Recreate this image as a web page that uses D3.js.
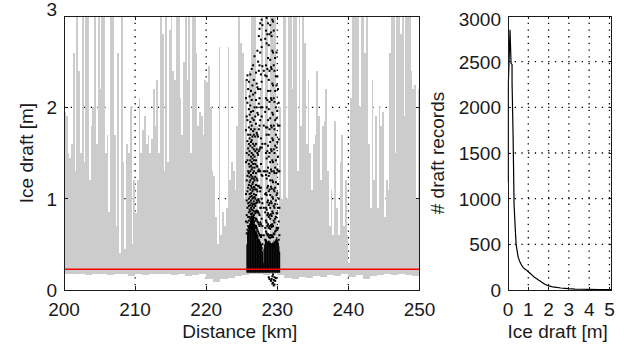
<!DOCTYPE html>
<html>
<head>
<meta charset="utf-8">
<script src="https://cdn.jsdelivr.net/npm/d3@7"></script>
<style>
body{margin:0;background:#fff;}
svg{display:block;}
text{font-family:"Liberation Sans",Arial,sans-serif;font-size:19px;fill:#1a1a1a;}
</style>
</head>
<body>
<div id="chart"></div>
<script>
// ice draft trace, upper value per 0.25 km bin from 200 km
var draftMax = [
 1.95,1.9,1.5,1.45,1.6,2.6,1.3,3.5,2.4,1.5, 3.5,1.4,3.5,3.5,1.2,1.8,2.0,3.5,1.6,3.5,
 2.2,3.5,3.5,1.5,1.7,0.85,3.5,3.2,1.7,0.7, 2.6,0.4,3.5,1.4,0.45,1.6,1.5,2.0,0.5,1.2,
 0.84,1.2,2.1,1.5,1.75,1.9,1.6,1.7,1.5,1.65, 2.2,1.8,2.3,1.5,3.5,2.8,1.3,3.5,1.4,2.85,
 3.5,2.4,2.3,3.5,3.5,2.1,1.7,2.5,3.5,2.3, 3.5,1.5,3.5,3.5,2.6,1.8,1.95,1.9,1.7,2.3,
 2.28,2.45,2.0,1.3,1.25,0.8,0.5,2.66,0.6,0.85, 0.7,0.9,2.66,1.2,1.4,1.3,1.1,1.8,3.5,2.7,
 2.6,1.0,2.3,1.6,2.4,3.5,3.5,3.5,1.8,0.6, 2.2,3.5,0.6,3.5,3.5,0.6,3.5,3.5,3.5,1.5,
 0.7,2.0,1.0,3.5,3.5,1.0,3.3,3.5,2.2,3.5, 3.5,1.3,3.5,1.8,3.5,2.7,1.6,2.3,1.5,1.1,
 1.6,1.7,2.4,1.9,1.2,1.8,1.85,2.2,1.3,0.7, 1.1,0.6,1.85,0.9,0.6,1.4,1.7,0.7,1.2,0.6,
 0.3,2.1,3.5,3.5,3.2,3.5,2.0,3.5,3.5,2.6, 3.5,1.6,0.9,2.3,1.2,1.9,0.9,2.0,1.8,1.95,
 0.8,1.2,1.1,2.6,3.5,3.5,1.5,3.5,3.5,2.8, 3.5,1.9,3.5,3.5,3.5,2.4,2.2,2.25,1.0,2.2
];
// lower edge of the trace, per 1 km
var draftMin = [
 0.18,0.17,0.18,0.16,0.17,0.17,0.16,0.18,0.17,0.15,
 0.17,0.16,0.17,0.18,0.17,0.16,0.17,0.15,0.16,0.17,
 0.12,0.09,0.12,0.13,0.15,0.16,0.18,0.18,0.16,0.17,
 0.16,0.13,0.12,0.14,0.13,0.15,0.14,0.16,0.15,0.17,
 0.14,0.16,0.12,0.15,0.16,0.17,0.16,0.17,0.16,0.15
];
// selected records: dense part, per 0.1 km from 225.7 km
var denseTop = [
 0.5,0.62,0.66,0.7,0.72,0.76,0.8,0.84,0.8,0.82,
 0.76,0.7,0.64,0.66,0.62,0.6,0.56,0.56,0.54,0.52,
 0.5,0.46,0.42,0.3,0.45,0.5,0.54,0.55,0.5,0.52,
 0.54,0.5,0.54,0.52,0.5,0.5,0.52,0.5,0.54,0.5,
 0.54,0.56,0.58,0.54,0.52,0.48,0.42
];
// selected records: scattered points, by 0.1 km column
var dotKm = [225.6,225.7,225.8,225.9,226.0,226.1,226.2,226.3,226.4,226.5,226.6,226.7,226.8,226.9,
             227.0,227.1,227.2,227.3,227.4,227.5,227.6,227.7,227.8,227.9,228.1,
             228.3,228.4,228.5,228.6,228.7,228.8,228.9,229.0,229.1,229.2,229.3,229.4,229.5,
             229.6,229.7,229.8,229.9,230.0,230.1,230.2,230.3];
var dotDraft = [
 [0.75,1.05,1.4,1.75,2.1],
 [0.62,0.82,0.98,1.2,1.5,1.9,2.3],
 [0.66,0.74,0.9,1.08,1.25,1.42,1.63,1.86,2.05,2.35],
 [0.63,0.7,0.8,0.95,1.12,1.3,1.55,1.7,2.2],
 [0.68,0.76,0.85,0.92,1.0,1.15,1.28,1.38,1.48,1.6,1.78,1.98,2.28],
 [0.7,0.8,0.88,0.96,1.05,1.18,1.24,1.35,1.52,1.66,1.92,2.12],
 [0.72,0.78,0.86,0.93,1.02,1.1,1.2,1.3,1.42,1.58,1.7,1.84,2.02,2.36],
 [0.68,0.75,0.83,0.9,0.98,1.06,1.14,1.26,1.36,1.46,1.62,1.76,1.95,2.18],
 [0.74,0.8,0.88,0.95,1.03,1.12,1.22,1.32,1.4,1.5,1.64,1.8,2.08,2.42],
 [0.7,0.77,0.84,0.92,1.0,1.08,1.16,1.24,1.34,1.44,1.56,1.68,1.88,2.24],
 [0.72,0.8,0.87,0.94,1.01,1.1,1.18,1.28,1.38,1.48,1.6,1.74,1.96,2.14,2.46],
 [0.67,0.74,0.82,0.9,0.97,1.05,1.13,1.22,1.3,1.42,1.54,1.7,1.86,2.3],
 [0.64,0.71,0.79,0.86,0.94,1.02,1.12,1.2,1.34,1.46,1.58,1.76,2.0,2.56],
 [0.6,0.68,0.76,0.84,0.92,1.0,1.1,1.24,1.38,1.52,1.68,1.9,2.16],
 [0.62,0.7,0.78,0.86,0.95,1.04,1.15,1.28,1.42,1.6,1.82,2.08,2.38],
 [0.6,0.68,0.77,0.87,0.98,1.1,1.22,1.36,1.54,1.72,2.0,2.26],
 [0.58,0.66,0.75,0.85,0.96,1.08,1.2,1.35,1.5,1.7,1.94,2.22,2.62],
 [0.55,0.64,0.74,0.86,0.99,1.14,1.3,1.48,1.68,1.92,2.2,2.5],
 [0.54,0.62,0.72,0.84,0.98,1.14,1.32,1.52,1.76,2.04,2.4,2.78],
 [0.52,0.6,0.7,0.82,0.96,1.12,1.3,1.54,1.8,2.1,2.46,2.86],
 [0.5,0.6,0.74,0.9,1.08,1.3,1.56,1.86,2.2,2.6,2.92],
 [0.48,0.58,0.72,0.9,1.12,1.38,1.66,2.0,2.36,2.74],
 [0.46,0.6,0.78,1.0,1.26,1.56,1.9,2.28,2.66,2.96],
 [0.5,0.7,0.95,1.25,1.6,2.0,2.45,2.9],
 [0.6,0.9,1.3,1.8,2.4],
 [0.55,0.68,0.85,1.05,1.3,1.6,1.95,2.35,2.75],
 [0.54,0.64,0.76,0.9,1.06,1.26,1.5,1.78,2.1,2.46,2.84],
 [0.52,0.62,0.74,0.88,1.04,1.22,1.44,1.7,2.0,2.34,2.7,2.98],
 [0.5,0.6,0.7,0.82,0.96,1.12,1.3,1.52,1.78,2.08,2.42,2.8],
 [0.52,0.61,0.72,0.84,0.98,1.14,1.34,1.58,1.86,2.18,2.54,2.92],
 [0.14,0.5,0.58,0.68,0.8,0.93,1.08,1.25,1.46,1.7,1.98,2.3,2.68],
 [0.12,0.5,0.6,0.7,0.82,0.95,1.1,1.28,1.5,1.76,2.06,2.4,2.8],
 [0.48,0.57,0.67,0.78,0.9,1.04,1.2,1.4,1.62,1.88,2.18,2.52,2.9],
 [0.1,0.5,0.6,0.71,0.83,0.97,1.13,1.32,1.54,1.8,2.1,2.44,2.82],
 [0.12,0.48,0.58,0.69,0.81,0.95,1.11,1.3,1.52,1.78,2.08,2.42,2.78,3.0],
 [0.07,0.15,0.5,0.6,0.72,0.86,1.02,1.2,1.42,1.66,1.94,2.26,2.62,2.96],
 [0.08,0.17,0.48,0.58,0.7,0.84,1.0,1.18,1.4,1.64,1.92,2.24,2.6,2.94],
 [0.05,0.11,0.5,0.62,0.76,0.92,1.1,1.3,1.54,1.8,2.1,2.46,2.84],
 [0.06,0.14,0.5,0.61,0.74,0.9,1.08,1.28,1.5,1.76,2.06,2.4],
 [0.1,0.52,0.64,0.78,0.94,1.12,1.34,1.58,1.86,2.18,2.54],
 [0.13,0.52,0.65,0.8,0.98,1.18,1.42,1.7,2.0,2.34],
 [0.54,0.68,0.84,1.04,1.28,1.56,1.88,2.24,2.6],
 [0.52,0.66,0.84,1.06,1.32,1.62,1.96,2.34],
 [0.5,0.68,0.9,1.16,1.46,1.8,2.2],
 [0.55,0.75,1.0,1.3,1.65,2.05],
 [0.6,0.9,1.3,1.8]
];
var levelLine = [0.227];

// draft distribution
var histDraft = [0,0.02,0.02,0.1,0.15,0.2,0.2,0.25,0.3,0.35,0.4,0.5,0.6,0.7,0.8,0.9,1.0,1.1,1.2,1.3,1.4,1.5,1.6,1.7,1.8,1.9,2.0,2.2,2.4,2.6,2.8,3.0,3.3,3.6,4.0,4.5,5.0,5.1];
var histCount = [1180,1180,2280,2850,2480,2470,2270,1700,930,700,500,360,300,260,235,220,200,180,160,140,125,110,95,80,65,55,45,35,28,22,18,14,10,8,6,5,4,4];

var distTicks = [200,210,220,230,240,250];
var draftTicks = [0,1,2,3];
var histXTicks = [0,1,2,3,4,5];
var histYTicks = [0,500,1000,1500,2000,2500,3000];

var svg = d3.select("#chart").append("svg")
    .attr("width", 624).attr("height", 348);
svg.append("rect").attr("width", 624).attr("height", 348).attr("fill", "#fff");

function drawGrid(g, x, y, xt, yt, w, h) {
    g.selectAll(".gx").data(xt.slice(1, -1)).enter().append("line")
        .attr("x1", d => x(d)).attr("x2", d => x(d)).attr("y1", 0).attr("y2", h)
        .attr("stroke", "#000").attr("stroke-width", 1.3).attr("stroke-dasharray", "1.3,5.4");
    g.selectAll(".gy").data(yt.slice(1, -1)).enter().append("line")
        .attr("y1", d => y(d)).attr("y2", d => y(d)).attr("x1", 0).attr("x2", w)
        .attr("stroke", "#000").attr("stroke-width", 1.3).attr("stroke-dasharray", "1.3,5.4");
}

function drawFrame(g, x, y, xt, yt, w, h, tl, topShift) {
    var frame = g.append("g").attr("stroke", "#1a1a1a").attr("stroke-width", 1).attr("shape-rendering", "crispEdges");
    frame.append("rect").attr("x", 0).attr("y", 0).attr("width", w).attr("height", h).attr("fill", "none");
    xt.forEach(function (d) {
        frame.append("line").attr("x1", x(d)).attr("x2", x(d)).attr("y1", h).attr("y2", h - tl);
        frame.append("line").attr("x1", x(d)).attr("x2", x(d)).attr("y1", 0).attr("y2", tl);
    });
    yt.forEach(function (d) {
        frame.append("line").attr("y1", y(d)).attr("y2", y(d)).attr("x1", 0).attr("x2", tl);
        frame.append("line").attr("y1", y(d)).attr("y2", y(d)).attr("x1", w).attr("x2", w - tl);
    });
    g.selectAll(".xl").data(xt).enter().append("text")
        .attr("x", d => x(d)).attr("y", h + 26)
        .attr("text-anchor", "middle").text(d => d);
    g.selectAll(".yl").data(yt).enter().append("text")
        .attr("x", -7).attr("y", (d, i) => y(d) + 7 + (i === yt.length - 1 ? topShift : 0))
        .attr("text-anchor", "end").text(d => d);
}

// left panel
var left = {x: 64, y: 16, w: 355.5, h: 274};
var gL = svg.append("g").attr("transform", "translate(" + left.x + "," + left.y + ")");
var xL = d3.scaleLinear().domain([200, 250]).range([0, left.w]);
var yL = d3.scaleLinear().domain([0, 3]).range([left.h, 0]);

svg.append("clipPath").attr("id", "clipL").append("rect")
    .attr("x", 0).attr("y", 0).attr("width", left.w).attr("height", left.h);

drawGrid(gL, xL, yL, distTicks, draftTicks, left.w, left.h);

var plotL = gL.append("g").attr("clip-path", "url(#clipL)");

plotL.append("g").attr("shape-rendering", "crispEdges")
    .selectAll("rect").data(draftMax).enter().append("rect")
    .attr("x", (d, i) => xL(200 + i * 0.25))
    .attr("width", (d, i) => xL(200 + (i + 1) * 0.25) - xL(200 + i * 0.25))
    .attr("y", d => yL(d))
    .attr("height", (d, i) => yL(draftMin[Math.floor(i / 4)]) - yL(d))
    .attr("fill", "#cccccc");

plotL.append("g")
    .selectAll("rect").data(denseTop).enter().append("rect")
    .attr("x", (d, i) => xL(225.65 + i * 0.1))
    .attr("width", xL(200.1) - xL(200) + 0.4)
    .attr("y", d => yL(d))
    .attr("height", d => yL(0.19) - yL(d))
    .attr("fill", "#000");

var dots = [];
dotKm.forEach(function (k, i) {
    dotDraft[i].forEach(function (v) { dots.push({km: k, v: v}); });
});
plotL.append("g")
    .selectAll("rect").data(dots).enter().append("rect")
    .attr("x", d => xL(d.km) - 1).attr("y", d => yL(d.v) - 1)
    .attr("width", 2).attr("height", 2)
    .attr("fill", "#000");

plotL.selectAll(".lvl").data(levelLine).enter().append("line")
    .attr("x1", xL(200)).attr("x2", xL(250))
    .attr("y1", d => yL(d)).attr("y2", d => yL(d))
    .attr("stroke", "#ff0000").attr("stroke-width", 1.6);

drawFrame(gL, xL, yL, distTicks, draftTicks, left.w, left.h, 4, -7.5);

gL.append("text").attr("x", left.w / 2 - 2).attr("y", left.h + 48)
    .attr("text-anchor", "middle").text("Distance [km]");
gL.append("text").attr("transform", "translate(-31," + (left.h / 2) + ") rotate(-90)")
    .attr("text-anchor", "middle").text("Ice draft [m]");

// right panel
var right = {x: 508, y: 16, w: 103.5, h: 274};
var gR = svg.append("g").attr("transform", "translate(" + right.x + "," + right.y + ")");
var xR = d3.scaleLinear().domain([0, 5.1]).range([0, right.w]);
var yR = d3.scaleLinear().domain([0, 3000]).range([right.h, 0]);

drawGrid(gR, xR, yR, histXTicks.concat([5.1]), histYTicks, right.w, right.h);

var line = d3.line().x(d => xR(d[0])).y(d => yR(d[1]));
gR.append("path")
    .datum(histDraft.map((d, i) => [d, histCount[i]]))
    .attr("d", line)
    .attr("fill", "none").attr("stroke", "#000").attr("stroke-width", 1.2);

drawFrame(gR, xR, yR, histXTicks, histYTicks, right.w, right.h, 3, 3);

gR.append("text").attr("x", right.w / 2 - 2).attr("y", right.h + 48)
    .attr("text-anchor", "middle").text("Ice draft [m]");
gR.append("text").attr("transform", "translate(-64," + (right.h / 2) + ") rotate(-90)")
    .attr("text-anchor", "middle").text("# draft records");
</script>
</body>
</html>
